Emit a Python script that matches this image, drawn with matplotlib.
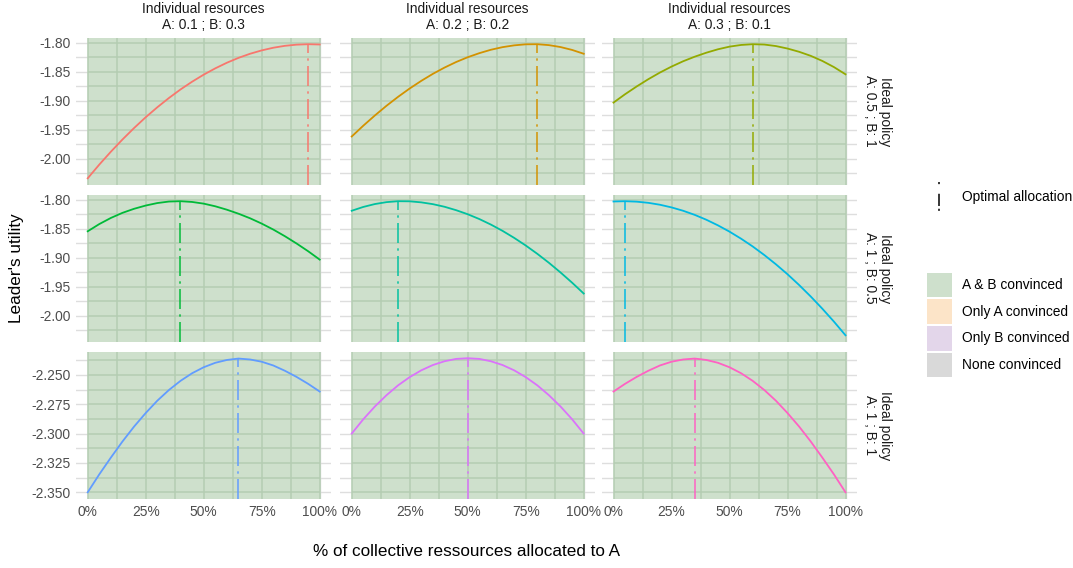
import matplotlib
matplotlib.use("Agg")
import matplotlib.pyplot as plt
import numpy as np
from matplotlib.patches import Rectangle
from matplotlib.lines import Line2D

plt.rcParams['font.family'] = ['Liberation Sans', 'DejaVu Sans']
plt.rcParams['axes.unicode_minus'] = False

# ---------------- data ----------------
alloc = [0.00, 0.05, 0.10, 0.15, 0.20, 0.25, 0.30, 0.35, 0.40, 0.45, 0.50,
         0.55, 0.60, 0.65, 0.70, 0.75, 0.80, 0.85, 0.90, 0.95, 1.00]

col_labels = ["Individual resources\nA: 0.1 ; B: 0.3",
              "Individual resources\nA: 0.2 ; B: 0.2",
              "Individual resources\nA: 0.3 ; B: 0.1"]
row_labels = ["Ideal policy\nA: 0.5 ; B: 1",
              "Ideal policy\nA: 1 ; B: 0.5",
              "Ideal policy\nA: 1 ; B: 1"]

util_r1c1 = [-2.0342, -2.0105, -1.9882, -1.9671, -1.9473, -1.9287, -1.9115, -1.8955, -1.8807, -1.8673, -1.8551,
             -1.8442, -1.8345, -1.8261, -1.8190, -1.8132, -1.8086, -1.8053, -1.8033, -1.8025, -1.8030]
util_r1c2 = [-1.9620, -1.9433, -1.9256, -1.9089, -1.8934, -1.8790, -1.8658, -1.8537, -1.8429, -1.8333, -1.8250,
             -1.8180, -1.8121, -1.8076, -1.8045, -1.8027, -1.8025, -1.8041, -1.8074, -1.8124, -1.8190]
util_r1c3 = [-1.9034, -1.8889, -1.8755, -1.8630, -1.8515, -1.8412, -1.8320, -1.8241, -1.8172, -1.8113, -1.8067,
             -1.8038, -1.8025, -1.8031, -1.8057, -1.8100, -1.8156, -1.8226, -1.8314, -1.8420, -1.8545]
util_r2c1 = [-1.8545, -1.8420, -1.8314, -1.8226, -1.8156, -1.8100, -1.8057, -1.8031, -1.8025, -1.8038, -1.8067,
             -1.8113, -1.8172, -1.8241, -1.8320, -1.8412, -1.8515, -1.8630, -1.8755, -1.8889, -1.9034]
util_r2c2 = [-1.8190, -1.8124, -1.8074, -1.8041, -1.8025, -1.8027, -1.8045, -1.8076, -1.8121, -1.8180, -1.8250,
             -1.8333, -1.8429, -1.8537, -1.8658, -1.8790, -1.8934, -1.9089, -1.9256, -1.9433, -1.9620]
util_r2c3 = [-1.8030, -1.8025, -1.8033, -1.8053, -1.8086, -1.8132, -1.8190, -1.8261, -1.8345, -1.8442, -1.8551,
             -1.8673, -1.8807, -1.8955, -1.9115, -1.9287, -1.9473, -1.9671, -1.9882, -2.0105, -2.0342]
util_r3c1 = [-2.3500, -2.3347, -2.3204, -2.3067, -2.2940, -2.2825, -2.2720, -2.2629, -2.2551, -2.2486, -2.2435,
             -2.2397, -2.2373, -2.2361, -2.2369, -2.2388, -2.2420, -2.2465, -2.2517, -2.2576, -2.2642]
util_r3c2 = [-2.3000, -2.2878, -2.2769, -2.2673, -2.2589, -2.2519, -2.2461, -2.2416, -2.2384, -2.2364, -2.2358,
             -2.2364, -2.2384, -2.2416, -2.2461, -2.2519, -2.2589, -2.2673, -2.2769, -2.2878, -2.3000]
util_r3c3 = [-2.2642, -2.2576, -2.2517, -2.2465, -2.2420, -2.2388, -2.2369, -2.2361, -2.2373, -2.2397, -2.2435,
             -2.2486, -2.2551, -2.2629, -2.2720, -2.2825, -2.2940, -2.3067, -2.3204, -2.3347, -2.3500]

utilities = [[util_r1c1, util_r1c2, util_r1c3],
             [util_r2c1, util_r2c2, util_r2c3],
             [util_r3c1, util_r3c2, util_r3c3]]

optimal_alloc = [[0.95, 0.80, 0.60],
                 [0.40, 0.20, 0.05],
                 [0.65, 0.50, 0.35]]
optimal_util = [[-1.8025, -1.8025, -1.8025],
                [-1.8025, -1.8025, -1.8025],
                [-2.2361, -2.2358, -2.2361]]

region_start = [0.0]
region_end = [1.0]
region_labels = ["A & B convinced", "Only A convinced", "Only B convinced", "None convinced"]

x_major = [0.0, 0.25, 0.5, 0.75, 1.0]
x_minor = [0.125, 0.375, 0.625, 0.875]
x_ticklabels = ["0%", "25%", "50%", "75%", "100%"]
y_major_top = [-2.00, -1.95, -1.90, -1.85, -1.80]
y_minor_top = [-2.025, -1.975, -1.925, -1.875, -1.825]
y_major_bot = [-2.350, -2.325, -2.300, -2.275, -2.250]
y_minor_bot = [-2.3375, -2.3125, -2.2875, -2.2625, -2.2375]

# ---------------- styling ----------------
colors = [["#F8766D", "#D39200", "#93AA00"],
          ["#00BA38", "#00C19F", "#00B9E3"],
          ["#619CFF", "#DB72FB", "#FF61C3"]]
region_colors = ["#CEE0CC", "#FCE4C8", "#E3D6EA", "#D9D9D9"]
grid_green = "#B4CDB2"
grid_grey = "#DEDEDE"
FS = 9.9      # small text
FT = 12.3     # axis titles

W, H = 1073, 568
fig = plt.figure(figsize=(W / 100, H / 100), dpi=100)

over = fig.add_axes([0, 0, 1, 1])
over.set_xlim(0, W)
over.set_ylim(H, 0)
over.axis('off')

col_left = [76.1, 340.1, 601.9]
pan_w = 255.2
row_top = [37.5, 194.5, 351.5]
pan_h = 147.5

dash_panel = (12, 3.2, 1.4, 3.2)

for r in range(3):
    row_vals = np.concatenate([np.array(u) for u in utilities[r]])
    lo, hi = row_vals.min(), row_vals.max()
    pad = (hi - lo) * 0.05
    ylim = (lo - pad, hi + pad)
    if r < 2:
        ymaj, ymin_, fmt = y_major_top, y_minor_top, "%.2f"
    else:
        ymaj, ymin_, fmt = y_major_bot, y_minor_bot, "%.3f"
    for c in range(3):
        ax = fig.add_axes([col_left[c] / W, 1 - (row_top[r] + pan_h) / H,
                           pan_w / W, pan_h / H])
        ax.set_facecolor('white')
        ax.set_xlim(-0.05, 1.05)
        ax.set_ylim(*ylim)
        for s in ax.spines.values():
            s.set_visible(False)
        ax.set_xticks(x_major)
        ax.set_xticks(x_minor, minor=True)
        ax.set_yticks(ymaj)
        ax.set_yticks(ymin_, minor=True)
        ax.set_axisbelow(True)
        ax.grid(which='both', color=grid_grey, lw=1.0, zorder=0)
        ax.tick_params(which='both', length=0, labelsize=FS, labelcolor='#4D4D4D')
        ax.tick_params(axis='y', pad=4)
        ax.tick_params(axis='x', pad=4.5)
        if c == 0:
            ax.set_yticklabels([fmt % v for v in ymaj])
        else:
            ax.set_yticklabels([])
        if r == 2:
            ax.set_xticklabels(x_ticklabels)
        else:
            ax.set_xticklabels([])
        # region rectangle
        for rs, re_ in zip(region_start, region_end):
            ax.axvspan(rs, re_, color=region_colors[0], lw=0, zorder=1)
            ax.hlines(list(ymaj) + list(ymin_), rs, re_, color=grid_green, lw=1.1, zorder=1.5)
            ax.vlines(x_major + x_minor, ylim[0], ylim[1], color=grid_green, lw=1.1, zorder=1.5)
        # optimal allocation
        ax.plot([optimal_alloc[r][c], optimal_alloc[r][c]], [ylim[0], optimal_util[r][c]],
                color=colors[r][c], lw=1.2, alpha=0.9, dashes=dash_panel, zorder=2)
        # curve
        ax.plot(alloc, utilities[r][c], color=colors[r][c], lw=1.3, zorder=3,
                solid_joinstyle='round')

# strips
for c in range(3):
    over.text(col_left[c] + pan_w / 2, 17.3, col_labels[c], ha='center', va='center',
              fontsize=FS, color='#1A1A1A', linespacing=1.15)
for r in range(3):
    over.text(877.5, row_top[r] + pan_h / 2, row_labels[r], ha='center', va='center',
              rotation=270, fontsize=FS, color='#1A1A1A', linespacing=1.1)

# axis titles
over.text(17, row_top[0] + (row_top[2] + pan_h - row_top[0]) / 2, "Leader's utility",
          rotation=90, ha='center', va='center', fontsize=FT, color='black')
over.text(col_left[0] + (col_left[2] + pan_w - col_left[0]) / 2, 551,
          "% of collective ressources allocated to A", ha='center', va='center',
          fontsize=FT, color='black')

# legend: optimal allocation
over.add_line(Line2D([939, 939], [182, 211], color='black', lw=1.1,
                     dashes=(1.4, 6.3, 8, 1.8)))
over.text(961.5, 197.3, "Optimal allocation", ha='left', va='center', fontsize=FS,
          color='black')

# legend: regions
for i, lab in enumerate(region_labels):
    top = 272.5 + i * 26.8
    over.add_patch(Rectangle((926.7, top), 25, 24.5, facecolor=region_colors[i], lw=0))
    over.text(961.5, top + 12.25, lab, ha='left', va='center', fontsize=FS, color='black')

fig.savefig("out.png", dpi=100)
